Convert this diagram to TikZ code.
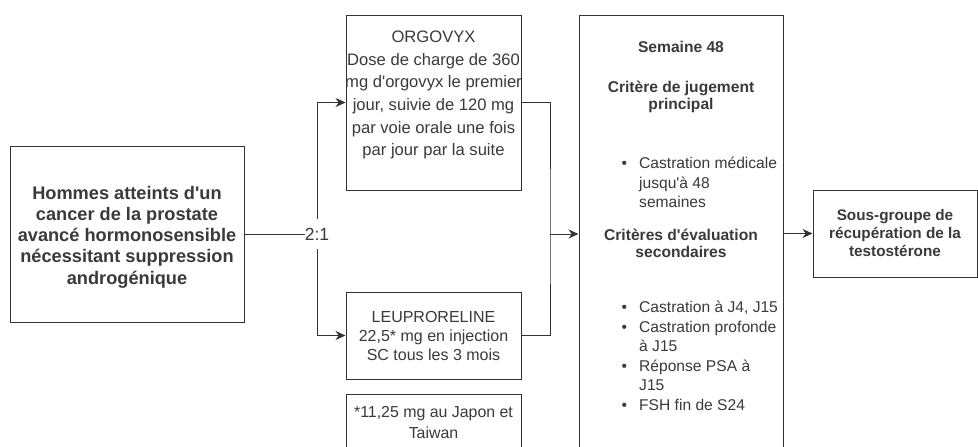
\documentclass[tikz,border=0pt]{standalone}
\usepackage{fontspec}
\setmainfont{Liberation Sans}
\usetikzlibrary{arrows.meta,positioning,calc}
\definecolor{trait}{HTML}{333333}
\definecolor{encre}{HTML}{3A3A3A}
\newcommand{\taille}[2]{\fontsize{#1}{#2}\selectfont}
\newcommand{\puce}{\makebox[0pt][r]{\textbullet\hspace{12pt}}}
\newcommand{\ap}{\textquotesingle}

\begin{document}
\begin{tikzpicture}[
  x=1pt, y=-1pt,
  boite/.style={draw=trait, line width=1pt, inner sep=0pt, align=center, text=encre},
  ligne/.style={draw=trait, line width=1pt},
  arr/.style={ligne, -{Stealth[length=10pt,width=9pt]}},
  txt/.style={text=encre, align=center, inner sep=0pt},
  titre/.style={txt, font=\bfseries\taille{15.6}{17}},
  liste/.style={txt, font=\taille{15.6}{19.5}, align=left, anchor=north west}
]
\useasboundingbox[fill=white] (0,0) rectangle (978,447);

% population
\node[boite, minimum width=234, minimum height=176] (patients) at (127,234) {};
\node[txt, font=\bfseries\taille{18.2}{21.3}] (patients-txt) at (127,237)
  {Hommes atteints d\ap un\\ cancer de la prostate\\ avancé hormonosensible\\
   nécessitant suppression\\ androgénique};

% bras de traitement
\node[boite, minimum width=175, minimum height=175] (orgovyx) at (433.5,102.5) {};
\node[txt, anchor=north, font=\taille{16.6}{22.6}] (orgovyx-txt) at (433.5,31)
  {ORGOVYX\\ Dose de charge de 360\\ mg d\ap orgovyx le premier\\ jour, suivie de 120 mg\\
   par voie orale une fois\\ par jour par la suite};
\node[boite, minimum width=175, minimum height=87, font=\taille{16}{19}]
  (leupro) at (433.5,335.5)
  {LEUPRORELINE\\ 22,5* mg en injection\\ SC tous les 3 mois};
\node[boite, minimum width=175, minimum height=86] (note) at (433.5,437) {};
\node[txt, anchor=north, font=\taille{15.9}{21}] (note-txt) at (433.5,406)
  {*11,25 mg au Japon et\\ Taiwan};

% criteres
\node[boite, minimum width=204, minimum height=455] (semaine) at (681,242.5) {};
\node[titre] (s48) at (681,47) {Semaine 48};
\node[titre, anchor=north] (critp) at (681,81) {Critère de jugement\\ principal};
\node[liste] (liste1) at (639,157)
  {\puce Castration médicale\\ jusqu\ap à 48\\ semaines};
\node[titre, anchor=north] (crits) at (681,229) {Critères d\ap évaluation\\ secondaires};
\node[liste] (liste2) at (639,301)
  {\puce Castration à J4, J15\\ \puce Castration profonde\\ à J15\\
   \puce Réponse PSA à\\ J15\\ \puce FSH fin de S24};

\node[boite, minimum width=164, minimum height=87, font=\bfseries\taille{15.3}{18}]
  (recup) at (895,233.5)
  {Sous-groupe de\\ récupération de la\\ testostérone};

% connecteurs
\node[txt, fill=white, minimum height=30, font=\taille{17.5}{20}] (ratio) at (317,234) {2:1};
\draw[ligne] (patients.east) -- (ratio.west);
\draw[arr] (ratio.north) |- (orgovyx.west);
\draw[arr] (ratio.south) |- (leupro.west);
\coordinate (fusion) at (550,234);
\draw[ligne] (orgovyx.east) -| (fusion) |- (leupro.east);
\draw[arr] (fusion) -- (fusion -| semaine.west);
\draw[arr] (recup.west -| semaine.east) -- (recup.west);
\end{tikzpicture}
\end{document}
